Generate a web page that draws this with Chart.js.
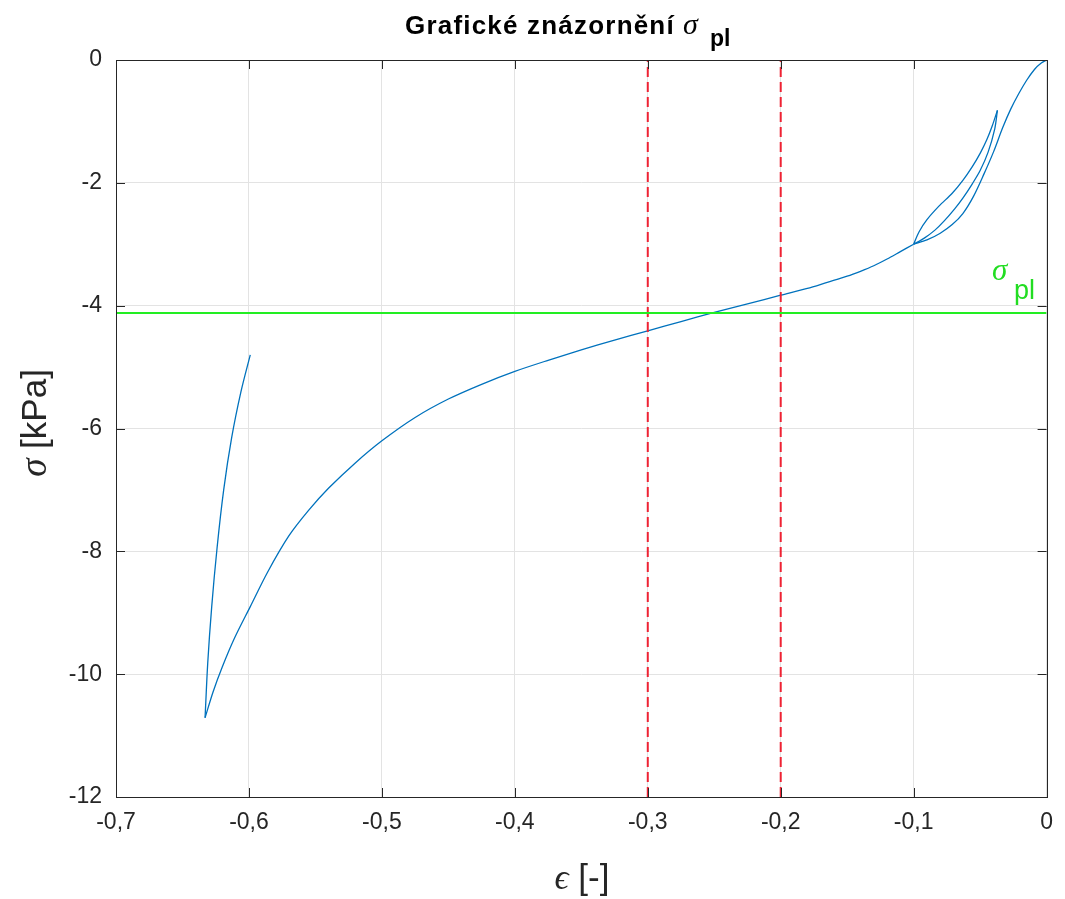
<!DOCTYPE html>
<html>
<head>
<meta charset="utf-8">
<title>Grafické znázornění σpl</title>
<script src="https://cdn.jsdelivr.net/npm/chart.js@4.4.1/dist/chart.umd.min.js"></script>
<style>
  html, body { margin: 0; padding: 0; background: #ffffff; }
  #wrap { width: 1065px; height: 899px; }
</style>
</head>
<body>
<div id="wrap"><canvas id="sigmaChart" width="1065" height="899"></canvas></div>
<script>
// strain / stress, branch by branch

// first loading, 0 -> -0.1
const loadEps   = [0, -0.004, -0.009, -0.015, -0.021, -0.027, -0.033, -0.040, -0.047, -0.055, -0.063, -0.071, -0.080, -0.090, -0.100];
const loadSigma = [0, -0.05, -0.15, -0.33, -0.55, -0.80, -1.10, -1.50, -1.85, -2.22, -2.50, -2.68, -2.82, -2.93, -3.00];

// small loop: unloading to the tip
const unloadEps   = [-0.100, -0.096, -0.090, -0.081, -0.071, -0.063, -0.056, -0.050, -0.045, -0.041, -0.037];
const unloadSigma = [-3.00, -2.80, -2.60, -2.38, -2.17, -1.96, -1.74, -1.52, -1.30, -1.08, -0.82];

// small loop: reloading back to -0.1
const reloadEps   = [-0.037, -0.039, -0.044, -0.050, -0.056, -0.063, -0.069, -0.077, -0.084, -0.092, -0.100];
const reloadSigma = [-0.82, -1.12, -1.50, -1.80, -2.02, -2.25, -2.42, -2.62, -2.77, -2.90, -3.00];

// main loading, -0.1 -> -0.633
const mainEps = [
  -0.100, -0.110, -0.120, -0.130, -0.140, -0.150, -0.165, -0.180, -0.200, -0.225,
  -0.250, -0.275, -0.300, -0.325, -0.350, -0.375, -0.400, -0.425, -0.450, -0.475,
  -0.500, -0.520, -0.540, -0.555, -0.570, -0.586, -0.599, -0.611, -0.620, -0.627,
  -0.633
];
const mainSigma = [
  -3.00, -3.12, -3.24, -3.35, -3.44, -3.52, -3.62, -3.72, -3.83, -3.97,
  -4.11, -4.26, -4.41, -4.56, -4.72, -4.89, -5.07, -5.28, -5.52, -5.82,
  -6.20, -6.56, -6.97, -7.33, -7.75, -8.34, -8.90, -9.42, -9.88, -10.29,
  -10.71
];

// final unloading
const finalEps   = [-0.633, -0.631, -0.628, -0.624, -0.619, -0.613, -0.606, -0.599];
const finalSigma = [-10.71, -9.82, -8.90, -7.95, -7.00, -6.15, -5.40, -4.80];

const strainBounds = [-0.3, -0.2];   // red dashed lines
const sigmaPl = -4.12;               // green line
const xRange = [-0.7, 0];
const yRange = [-12, 0];

const toPoints = (xs, ys) => xs.map((x, i) => ({ x: x, y: ys[i] }));

const branches = [
  toPoints(loadEps, loadSigma),
  toPoints(unloadEps, unloadSigma),
  toPoints(reloadEps, reloadSigma),
  toPoints(mainEps, mainSigma),
  toPoints(finalEps, finalSigma)
];

const fmtTick = v => {
  const r = Math.round(v * 10) / 10;
  return r === 0 ? "0" : String(r).replace(".", ",");
};

const sans = "'Liberation Sans', Arial, sans-serif";
const serif = "'Liberation Serif', 'Times New Roman', serif";

// box, inner ticks, title, axis labels, sigma_pl label
const matlabDecor = {
  id: "matlabDecor",
  afterDraw(chart) {
    const { ctx, chartArea: a, scales } = chart;
    const dark = "#262626";
    ctx.save();

    // inward tick marks
    ctx.strokeStyle = dark;
    ctx.lineWidth = 1;
    const tl = 9;
    scales.x.ticks.forEach(t => {
      const px = Math.round(scales.x.getPixelForValue(t.value)) + 0.5;
      ctx.beginPath();
      ctx.moveTo(px, a.bottom); ctx.lineTo(px, a.bottom - tl);
      ctx.moveTo(px, a.top); ctx.lineTo(px, a.top + tl);
      ctx.stroke();
    });
    scales.y.ticks.forEach(t => {
      const py = Math.round(scales.y.getPixelForValue(t.value)) + 0.5;
      ctx.beginPath();
      ctx.moveTo(a.left, py); ctx.lineTo(a.left + tl, py);
      ctx.moveTo(a.right, py); ctx.lineTo(a.right - tl, py);
      ctx.stroke();
    });

    // box
    ctx.strokeRect(Math.round(a.left) + 0.5, Math.round(a.top) + 0.5,
      Math.round(a.right - a.left), Math.round(a.bottom - a.top));

    // title
    ctx.fillStyle = "#000000";
    ctx.textBaseline = "alphabetic";
    ctx.textAlign = "left";
    if ("letterSpacing" in ctx) ctx.letterSpacing = "1.2px";
    ctx.font = "bold 26px " + sans;
    const t1 = "Grafické znázornění";
    ctx.fillText(t1, 405, 34);
    const w1 = ctx.measureText(t1).width;
    if ("letterSpacing" in ctx) ctx.letterSpacing = "0px";
    ctx.font = "italic 30px " + serif;
    ctx.fillText("σ", 405 + w1 + 8, 34);
    ctx.font = "bold 23px " + sans;
    ctx.fillText("pl", 405 + w1 + 35, 46);

    // x label
    ctx.fillStyle = dark;
    ctx.font = "italic 35px " + serif;
    const wex = ctx.measureText("ϵ").width;
    ctx.font = "35px " + sans;
    const xl = " [-]";
    const wxl = ctx.measureText(xl).width;
    const lx = 582 - (wex + wxl) / 2;
    ctx.font = "italic 35px " + serif;
    ctx.fillText("ϵ", lx, 889);
    ctx.font = "35px " + sans;
    ctx.fillText(xl, lx + wex, 889);

    // y label (rotated)
    ctx.save();
    ctx.translate(46, 423);
    ctx.rotate(-Math.PI / 2);
    ctx.font = "italic 37px " + serif;
    const ws = ctx.measureText("σ").width;
    ctx.font = "35px " + sans;
    const yl = " [kPa]";
    const wyl = ctx.measureText(yl).width;
    const ly = -(ws + wyl) / 2;
    ctx.font = "italic 37px " + serif;
    ctx.fillText("σ", ly, 0);
    ctx.font = "35px " + sans;
    ctx.fillText(yl, ly + ws, 0);
    ctx.restore();

    // sigma_pl label
    ctx.fillStyle = "#22dd22";
    ctx.font = "italic 31px " + serif;
    ctx.fillText("σ", 992, 280);
    ctx.font = "27px " + sans;
    ctx.fillText("pl", 1014, 299);

    ctx.restore();
  }
};

const curveSets = branches.map((pts, i) => ({
  label: "σ(ϵ) " + (i + 1),
  data: pts,
  showLine: true,
  borderColor: "#0072BD",
  borderWidth: 1.3,
  pointRadius: 0,
  tension: 0.3,
  order: 3
}));

const ctx = document.getElementById("sigmaChart");
new Chart(ctx, {
  type: "scatter",
  data: {
    datasets: curveSets.concat([
      {
        label: "ϵ = -0,3",
        data: [{ x: strainBounds[0], y: yRange[0] }, { x: strainBounds[0], y: yRange[1] }],
        showLine: true,
        borderColor: "#ee2233",
        borderWidth: 2,
        borderDash: [10, 5],
        pointRadius: 0,
        order: 2
      },
      {
        label: "ϵ = -0,2",
        data: [{ x: strainBounds[1], y: yRange[0] }, { x: strainBounds[1], y: yRange[1] }],
        showLine: true,
        borderColor: "#ee2233",
        borderWidth: 2,
        borderDash: [10, 5],
        pointRadius: 0,
        order: 2
      },
      {
        label: "σpl",
        data: [{ x: xRange[0], y: sigmaPl }, { x: xRange[1], y: sigmaPl }],
        showLine: true,
        borderColor: "#22ee22",
        borderWidth: 2,
        pointRadius: 0,
        order: 1
      }
    ])
  },
  options: {
    responsive: false,
    animation: false,
    layout: { padding: { left: 0, right: 16, top: 60, bottom: 0 } },
    plugins: {
      legend: { display: false },
      title: { display: false },
      tooltip: { enabled: false }
    },
    scales: {
      x: {
        type: "linear",
        min: xRange[0],
        max: xRange[1],
        afterFit: s => { s.height = 102; },
        grid: { color: "#e3e3e3", drawTicks: false },
        border: { display: false },
        ticks: {
          stepSize: 0.1,
          padding: 12,
          color: "#262626",
          font: { family: sans, size: 23 },
          maxRotation: 0,
          callback: v => fmtTick(v)
        }
      },
      y: {
        type: "linear",
        min: yRange[0],
        max: yRange[1],
        afterFit: s => { s.width = 116; },
        grid: { color: "#e3e3e3", drawTicks: false },
        border: { display: false },
        ticks: {
          stepSize: 2,
          padding: 14,
          color: "#262626",
          font: { family: sans, size: 23 },
          callback: v => fmtTick(v)
        }
      }
    }
  },
  plugins: [matlabDecor]
});
</script>
</body>
</html>
